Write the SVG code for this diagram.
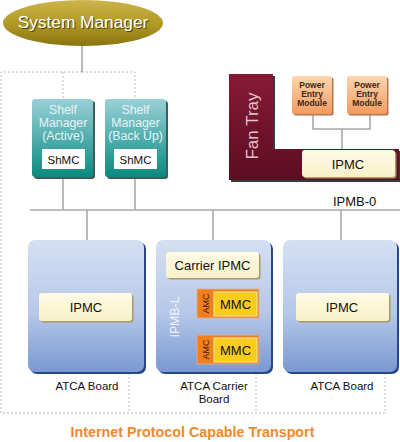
<svg xmlns="http://www.w3.org/2000/svg" width="400" height="442" viewBox="0 0 400 442">
<defs>
<linearGradient id="gSys" x1="0" y1="0" x2="0" y2="1">
<stop offset="0" stop-color="#cdb44c"/><stop offset="0.5" stop-color="#b29a26"/><stop offset="1" stop-color="#8a7410"/>
</linearGradient>
<linearGradient id="gShelf" x1="0" y1="0" x2="0" y2="1">
<stop offset="0" stop-color="#98d0d6"/><stop offset="0.5" stop-color="#52aeae"/><stop offset="1" stop-color="#0a8a7e"/>
</linearGradient>
<linearGradient id="gFan" x1="0" y1="0" x2="0" y2="1">
<stop offset="0" stop-color="#861a36"/><stop offset="1" stop-color="#5c0c22"/>
</linearGradient>
<linearGradient id="gPem" x1="0" y1="0" x2="0" y2="1">
<stop offset="0" stop-color="#fcd6b0"/><stop offset="1" stop-color="#f29a5e"/>
</linearGradient>
<linearGradient id="gBoard" x1="0" y1="0" x2="0" y2="1">
<stop offset="0" stop-color="#d4e0f2"/><stop offset="0.55" stop-color="#b6c8e8"/><stop offset="1" stop-color="#7a98d2"/>
</linearGradient>
<linearGradient id="gIpmc" x1="0" y1="0" x2="0" y2="1">
<stop offset="0" stop-color="#fefbe6"/><stop offset="1" stop-color="#f8f0c8"/>
</linearGradient>
</defs>
<style>
text{font-family:"Liberation Sans",Arial,sans-serif;}
.dash{fill:none;stroke:#bcbcbc;stroke-width:1;stroke-dasharray:2,2;}
.wire{fill:none;stroke:#a8a8a8;stroke-width:1.6;}
.wireW{fill:none;stroke:#f2f4fa;stroke-width:1.3;}
.board{fill:url(#gBoard);}
.boardSh{fill:#28468a;}
.shelf{fill:url(#gShelf);}
.shelfSh{fill:#3d5f5c;}
.ipmc{fill:url(#gIpmc);}
.ipmcSh{fill:#a89a66;}
.pem{fill:url(#gPem);}
.pemSh{fill:#b07850;}
.amc{fill:#f0801e;stroke:#e0ae8c;stroke-width:0.8;}
.mmc{fill:#f8cc1c;stroke:#fbe79a;stroke-width:1;}
.lbl{font-size:11.5px;fill:#111;text-anchor:middle;}
.shl{font-size:12.3px;fill:#e6f4f4;text-anchor:middle;}
.big{font-size:13px;fill:#111;text-anchor:middle;}
.pemt{font-size:8.5px;font-weight:bold;fill:#3a2a1a;text-anchor:middle;}
</style>

<g id="connectors">
<path class="dash" d="M82,72 H1 V413 H385 V373"/>
<path class="dash" d="M82,72 H135 V99"/>
<path class="dash" d="M63,72 V99"/>
<path class="dash" d="M129,373 V413"/>
<path class="dash" d="M256,373 V413"/>
<path class="wire" d="M82,46 V72"/>
<path class="wire" d="M63,177 V210"/>
<path class="wire" d="M135,177 V210"/>
<path class="wire" d="M30,210 H400"/>
<path class="wire" d="M87,210 V240"/>
<path class="wire" d="M213,210 V240"/>
<path class="wire" d="M341,210 V240"/>
<path class="wire" d="M313,114 V129 H370 V114"/>
<path class="wire" d="M342,129 V149"/>
<path class="wireW" d="M183,278 V351 H197"/>
<path class="wireW" d="M183,303 H197"/>
<text x="333" y="206" style="font-size:13px;fill:#111">IPMB-0</text>
</g>

<g id="system-manager">
<ellipse cx="83" cy="23" rx="80" ry="23" fill="url(#gSys)"/>
<text x="84" y="29" style="font-size:17.3px;fill:#3a3206;text-anchor:middle;opacity:0.8">System Manager</text>
<text x="83" y="28" style="font-size:17.3px;fill:#ffffff;text-anchor:middle">System Manager</text>
</g>

<g id="shelf-manager-active">
<rect class="shelfSh" x="34" y="101" width="61" height="78" rx="3"/>
<rect class="shelf" x="32" y="99" width="61" height="78" rx="3"/>
<text class="shl" x="63" y="114">Shelf</text>
<text class="shl" x="63" y="127">Manager</text>
<text class="shl" x="63" y="140">(Active)</text>
<rect x="42" y="149" width="43" height="20" fill="#ffffff"/>
<text class="lbl" x="63.5" y="163.5">ShMC</text>
</g>

<g id="shelf-manager-backup">
<rect class="shelfSh" x="107" y="101" width="61" height="78" rx="3"/>
<rect class="shelf" x="105" y="99" width="61" height="78" rx="3"/>
<text class="shl" x="135.5" y="114">Shelf</text>
<text class="shl" x="135.5" y="127">Manager</text>
<text class="shl" x="135.5" y="140">(Back Up)</text>
<rect x="114" y="149" width="43" height="20" fill="#ffffff"/>
<text class="lbl" x="135.5" y="163.5">ShMC</text>
</g>

<g id="fan-tray">
<path d="M231,76 H275 V151 H400 V182 H231 Z" fill="#2e3f3c"/>
<path d="M229,74 H273 V149 H399 V180 H229 Z" fill="url(#gFan)"/>
<text transform="translate(258,126) rotate(-90)" style="font-size:17px;fill:#e4c4cc;text-anchor:middle">Fan Tray</text>
<rect class="ipmcSh" x="303.5" y="151.5" width="93" height="27" rx="3"/>
<rect class="ipmc" x="302" y="150" width="93" height="27" rx="3"/>
<text class="big" x="348" y="168.5">IPMC</text>
</g>

<g id="pem-1">
<rect class="pemSh" x="293.5" y="77.5" width="40" height="38" rx="2"/>
<rect class="pem" x="292" y="76" width="40" height="38" rx="2"/>
<text class="pemt" x="312" y="88">Power</text>
<text class="pemt" x="312" y="97">Entry</text>
<text class="pemt" x="312" y="106">Module</text>
</g>

<g id="pem-2">
<rect class="pemSh" x="348.5" y="77.5" width="40" height="38" rx="2"/>
<rect class="pem" x="347" y="76" width="40" height="38" rx="2"/>
<text class="pemt" x="367" y="88">Power</text>
<text class="pemt" x="367" y="97">Entry</text>
<text class="pemt" x="367" y="106">Module</text>
</g>

<g id="atca-board-left">
<rect class="boardSh" x="30" y="242" width="116" height="132" rx="7"/>
<rect class="board" x="28" y="240" width="116" height="132" rx="7"/>
<rect class="ipmcSh" x="40.5" y="294.5" width="93" height="28" rx="3"/>
<rect class="ipmc" x="39" y="293" width="93" height="28" rx="3"/>
<text class="big" x="86" y="312">IPMC</text>
<text class="lbl" x="87" y="390">ATCA Board</text>
</g>

<g id="atca-carrier-board">
<rect class="boardSh" x="158" y="242" width="115" height="132" rx="7"/>
<rect class="board" x="156" y="240" width="115" height="132" rx="7"/>
<rect class="ipmcSh" x="167.5" y="253.5" width="93" height="26" rx="3"/>
<rect class="ipmc" x="166" y="252" width="93" height="26" rx="3"/>
<text class="big" x="212.5" y="270">Carrier IPMC</text>
<text transform="translate(179,317) rotate(-90)" style="font-size:12.3px;fill:#eef2fa;text-anchor:middle">IPMB-L</text>
<rect class="amc" x="197" y="289" width="62" height="29"/>
<text transform="translate(209,303.5) rotate(-90)" style="font-size:9px;fill:#3a1a00;text-anchor:middle">AMC</text>
<rect class="mmc" x="214" y="292" width="43" height="24"/>
<text class="big" x="235.5" y="308.5">MMC</text>
<rect class="amc" x="197" y="335" width="62" height="29"/>
<text transform="translate(209,349.5) rotate(-90)" style="font-size:9px;fill:#3a1a00;text-anchor:middle">AMC</text>
<rect class="mmc" x="214" y="338" width="43" height="24"/>
<text class="big" x="235.5" y="354.5">MMC</text>
<text class="lbl" x="214" y="390">ATCA Carrier</text>
<text class="lbl" x="214" y="403">Board</text>
</g>

<g id="atca-board-right">
<rect class="boardSh" x="285" y="242" width="114" height="132" rx="7"/>
<rect class="board" x="283" y="240" width="114" height="132" rx="7"/>
<rect class="ipmcSh" x="297.5" y="294.5" width="93" height="28" rx="3"/>
<rect class="ipmc" x="296" y="293" width="93" height="28" rx="3"/>
<text class="big" x="342" y="312">IPMC</text>
<text class="lbl" x="342" y="390">ATCA Board</text>
</g>

<text x="192.5" y="437" style="font-size:14.3px;font-weight:bold;fill:#f0892e;text-anchor:middle">Internet Protocol Capable Transport</text>
</svg>
